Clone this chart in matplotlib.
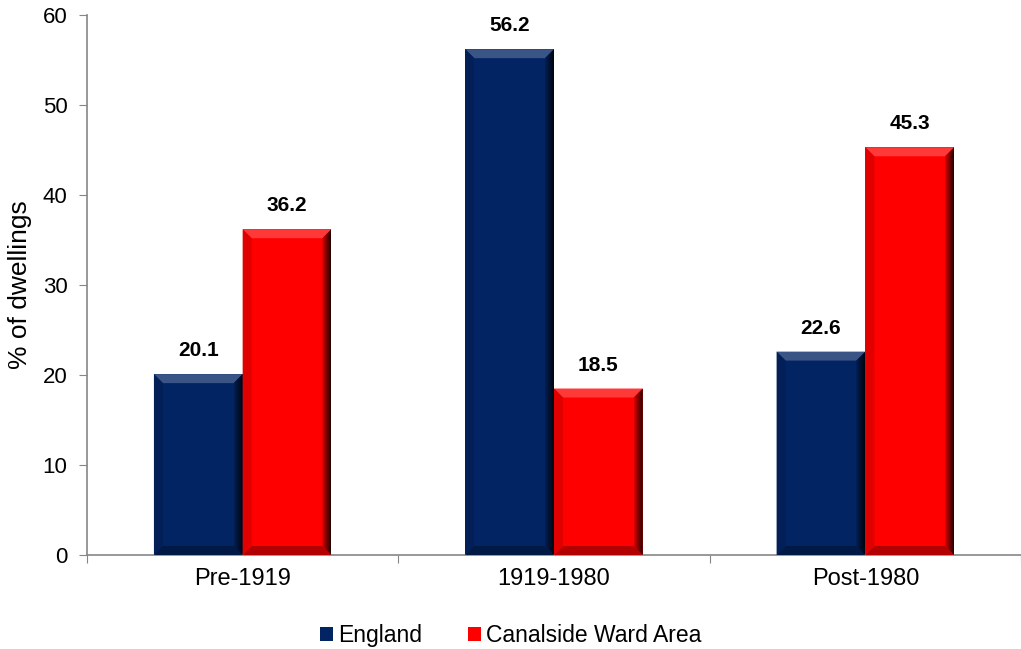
import numpy as np
import matplotlib.pyplot as plt
from matplotlib.patches import Polygon, Patch
from matplotlib.colors import to_rgb

plt.rcParams['font.family'] = ['Liberation Sans', 'DejaVu Sans']

categories = ['Pre-1919', '1919-1980', 'Post-1980']
england = [20.1, 56.2, 22.6]
canalside = [36.2, 18.5, 45.3]
series_names = ['England', 'Canalside Ward Area']
colors = ['#022463', '#FF0000']

fig = plt.figure(figsize=(10.21, 6.49), dpi=100)
ax = fig.add_axes([0.0852, 0.1448, 0.9148, 0.8321])

x = np.arange(len(categories))
w = 0.285


def shade(c, f):
    r, g, b = to_rgb(c)
    if f >= 0:
        return (r + (1 - r) * f, g + (1 - g) * f, b + (1 - b) * f)
    return (r * (1 + f), g * (1 + f), b * (1 + f))


def bevel(ax, bar, color):
    x0, y0 = bar.get_x(), bar.get_y()
    x1, y1 = x0 + bar.get_width(), y0 + bar.get_height()
    bx = 9 / 312.0   # bevel width in data units (~9 px)
    by = 9 / 9.0
    # top - lighter
    ax.add_patch(Polygon([(x0, y1), (x1, y1), (x1 - bx, y1 - by), (x0 + bx, y1 - by)],
                         closed=True, fc=shade(color, 0.22), ec='none', zorder=3))
    # bottom - darker
    ax.add_patch(Polygon([(x0, y0), (x1, y0), (x1 - bx, y0 + by), (x0 + bx, y0 + by)],
                         closed=True, fc=shade(color, -0.3), ec='none', zorder=3))
    # left - slightly darker
    ax.add_patch(Polygon([(x0, y0), (x0 + bx, y0 + by), (x0 + bx, y1 - by), (x0, y1)],
                         closed=True, fc=shade(color, -0.12), ec='none', zorder=3))
    # right - gradient to black
    grad = np.linspace(0, 1, 50).reshape(1, -1)
    rgb = np.array(shade(color, -0.15))
    img = np.zeros((1, 50, 3))
    for k in range(3):
        img[..., k] = rgb[k] * (1 - grad * 0.85)
    im = ax.imshow(img, extent=(x1 - bx, x1, y0, y1), aspect='auto', zorder=3,
                   interpolation='bilinear')
    clip = Polygon([(x1, y0), (x1, y1), (x1 - bx, y1 - by), (x1 - bx, y0 + by)],
                   closed=True, transform=ax.transData)
    im.set_clip_path(clip)


for vals, off, col in [(england, -w / 2, colors[0]), (canalside, w / 2, colors[1])]:
    bars = ax.bar(x + off, vals, w, color=col, zorder=2)
    for b, v in zip(bars, vals):
        bevel(ax, b, col)
        ax.annotate(f'{v:.1f}', (b.get_x() + b.get_width() / 2, v),
                    xytext=(0, 10), textcoords='offset points', ha='center', va='bottom',
                    fontsize=15, fontweight='bold')

ax.set_xlim(-0.5, 2.5)
ax.set_ylim(0, 60)
ax.set_yticks(range(0, 61, 10))
ax.set_xticks([-0.5, 0.5, 1.5, 2.5])
ax.set_xticklabels([])
ax.set_xticks(x, minor=True)
ax.set_xticklabels(categories, minor=True, fontsize=17)
ax.tick_params(axis='x', which='minor', length=0, pad=9)
ax.tick_params(axis='x', which='major', length=6, color='#868686', direction='out')
ax.tick_params(axis='y', length=6, color='#868686', labelsize=16, pad=8)
for s in ['top', 'right']:
    ax.spines[s].set_visible(False)
for s in ['left', 'bottom']:
    ax.spines[s].set_color('#868686')
    ax.spines[s].set_linewidth(1.2)
ax.set_ylabel('% of dwellings', fontsize=19, labelpad=8)

handles = [Patch(facecolor=c, edgecolor='none') for c in colors]
fig.legend(handles, series_names, loc='center', bbox_to_anchor=(0.5, 0.021), ncol=2,
           frameon=False, fontsize=16.5, handlelength=0.6, handleheight=0.6,
           handletextpad=0.2, columnspacing=2.0)

fig.savefig('out.png', dpi=100)
